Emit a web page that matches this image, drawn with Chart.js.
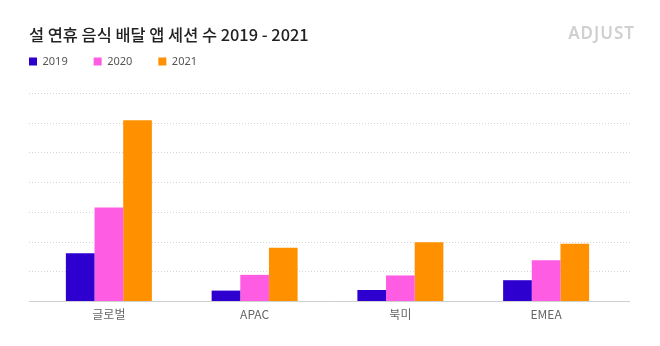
<!DOCTYPE html>
<html>
<head>
<meta charset="utf-8">
<script src="https://cdn.jsdelivr.net/npm/chart.js@4"></script>
<style>
  body { margin: 0; background: #fff; }
  #wrap { position: relative; width: 660px; height: 346px; }
  #title {
    position: absolute; left: 29px; top: 22px;
    font: 500 16.4px "Noto Sans CJK KR", "Noto Sans", sans-serif;
    color: #222; white-space: nowrap;
  }
  #logo {
    position: absolute; right: 25px; top: 21px;
    font: 600 17px "Noto Sans", sans-serif;
    letter-spacing: 1px; color: #d0d0d0;
  }
</style>
</head>
<body>
<div id="wrap">
  <canvas id="myChart" width="660" height="346"></canvas>
  <div id="title">설 연휴 음식 배달 앱 세션 수 2019 - 2021</div>
  <div id="logo">ADJUST</div>
</div>
<script>
const regions = ['글로벌', 'APAC', '북미', 'EMEA'];
const years = ['2019', '2020', '2021'];
const sessions2019 = [1.61, 0.35, 0.37, 0.70];
const sessions2020 = [3.15, 0.88, 0.86, 1.37];
const sessions2021 = [6.08, 1.79, 1.98, 1.93];
const colors = ['#2d00d0', '#ff5ce4', '#ff9000'];

// dotted grid drawn a bit wider than the bar area, like the original
const wideGrid = {
  id: 'wideGrid',
  beforeDatasetsDraw(chart) {
    const {ctx, chartArea, scales: {y}} = chart;
    const x0 = chartArea.left - 7, x1 = chartArea.right + 11;
    ctx.save();
    y.ticks.forEach(t => {
      const py = Math.round(y.getPixelForValue(t.value)) + 0.5;
      ctx.beginPath();
      if (t.value === 0) {
        ctx.setLineDash([]);
        ctx.strokeStyle = '#cfcfcf';
      } else {
        ctx.setLineDash([1, 2]);
        ctx.strokeStyle = '#d4d4d4';
      }
      ctx.lineWidth = 1;
      ctx.moveTo(x0, py);
      ctx.lineTo(x1, py);
      ctx.stroke();
    });
    ctx.restore();
  }
};

const ctx = document.getElementById('myChart');

new Chart(ctx, {
  type: 'bar',
  data: {
    labels: regions,
    datasets: [
      { label: years[0], data: sessions2019, backgroundColor: colors[0] },
      { label: years[1], data: sessions2020, backgroundColor: colors[1] },
      { label: years[2], data: sessions2021, backgroundColor: colors[2] }
    ]
  },
  options: {
    responsive: false,
    animation: false,
    categoryPercentage: 0.59,
    barPercentage: 1.0,
    layout: { padding: { left: 3, right: 41, top: 30, bottom: 25 } },
    plugins: {
      tooltip: { enabled: false },
      legend: {
        position: 'top',
        align: 'start',
        labels: {
          boxWidth: 8,
          boxHeight: 8,
          padding: 26,
          color: '#555',
          font: { size: 11, family: '"Noto Sans", sans-serif' }
        }
      },
      // empty spacer between legend and plot
      subtitle: {
        display: true,
        text: '',
        position: 'top',
        weight: 500,
        padding: 0,
        font: { size: 16, lineHeight: 1 }
      }
    },
    scales: {
      x: {
        grid: { display: false, drawTicks: false },
        border: { display: false },
        ticks: {
          padding: 6,
          color: '#666',
          font: { size: 12, family: '"Noto Sans CJK KR", "Noto Sans", sans-serif' }
        },
        afterFit(scale) { scale.height = 20; }
      },
      y: {
        min: 0,
        max: 7,
        ticks: { stepSize: 1, display: false },
        grid: { display: false },
        border: { display: false },
        afterFit(scale) { scale.width = 33; }
      }
    }
  },
  plugins: [wideGrid]
});
</script>
</body>
</html>
